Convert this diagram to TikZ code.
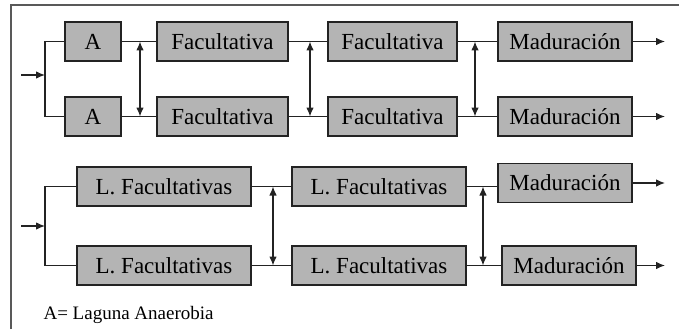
\documentclass[tikz,border=0pt]{standalone}
\usepackage{fontspec}
\setmainfont{Liberation Serif}
\usetikzlibrary{arrows.meta}
\definecolor{boxgray}{RGB}{180,180,180}
\definecolor{linegray}{RGB}{35,35,35}

\begin{document}
\begin{tikzpicture}[x=1pt, y=-1pt, line width=1.1pt, draw=linegray,
    box/.style={draw=linegray, line width=1.3pt, fill=boxgray, minimum height=39pt, inner sep=0pt, font=\fontsize{23}{25}\selectfont},
    tip/.style={-{Latex[length=9pt,width=7.5pt]}},
    dbl/.style={{Latex[length=9pt,width=7.5pt]}-{Latex[length=9pt,width=7.5pt]}}]

      \useasboundingbox (0,0) rectangle (679,329);
      \draw[gray!70!black] (11,329) -- (11,5) -- (679,5);

      % Define boxes, upper scheme
      \node[box, minimum width=56pt] (a1) at (93,41.5) {A};
      \node[box, minimum width=56pt] (a2) at (93,116.5) {A};
      \node[box, minimum width=131pt] (f1) at (222.5,41.5) {Facultativa};
      \node[box, minimum width=131pt] (f2) at (222.5,116.5) {Facultativa};
      \node[box, minimum width=129pt] (f3) at (392.5,41.5) {Facultativa};
      \node[box, minimum width=129pt] (f4) at (392.5,116.5) {Facultativa};
      \node[box, minimum width=134pt] (m1) at (565,41.5) {Maduración};
      \node[box, minimum width=134pt] (m2) at (565,116.5) {Maduración};

      % Define boxes, lower scheme
      \node[box, minimum width=174pt] (l1) at (164,186.5) {L. Facultativas};
      \node[box, minimum width=174pt] (l2) at (164,265.5) {L. Facultativas};
      \node[box, minimum width=174pt] (l3) at (379,186.5) {L. Facultativas};
      \node[box, minimum width=174pt] (l4) at (379,265.5) {L. Facultativas};
      \node[box, minimum width=134pt] (m3) at (565,183) {Maduración};
      \node[box, minimum width=134pt] (m4) at (569,265.5) {Maduración};

      \node[anchor=west, font=\fontsize{19}{21}\selectfont, inner sep=0pt] (key) at (43,315) {A= Laguna Anaerobia};

      % Define points
      \coordinate (in1) at (21,75);
      \coordinate (br1) at (45,75);
      \coordinate (in2) at (21,226);
      \coordinate (br2) at (45,226);
      \coordinate (v1t) at (140,41.5);
      \coordinate (v1b) at (140,116.5);
      \coordinate (v2t) at (310,41.5);
      \coordinate (v2b) at (310,116.5);
      \coordinate (v3t) at (475,41.5);
      \coordinate (v3b) at (475,116.5);
      \coordinate (v4t) at (273,186.5);
      \coordinate (v4b) at (273,265.5);
      \coordinate (v5t) at (483,186.5);
      \coordinate (v5b) at (483,265.5);
      \coordinate (o1) at (665,41.5);
      \coordinate (o2) at (665,116.5);
      \coordinate (o3) at (665,183);
      \coordinate (o4) at (665,265.5);

      % Define connections, upper scheme
      \draw[tip] (in1) -- (br1);
      \draw (a1.west) -| (br1) |- (a2.west);
      \draw (a1) -- (f1);
      \draw (a2) -- (f2);
      \draw (f1) -- (f3);
      \draw (f2) -- (f4);
      \draw (f3) -- (m1);
      \draw (f4) -- (m2);
      \draw[dbl] (v1t) -- (v1b);
      \draw[dbl] (v2t) -- (v2b);
      \draw[dbl] (v3t) -- (v3b);
      \draw[tip] (m1) -- (o1);
      \draw[tip] (m2) -- (o2);

      % Define connections, lower scheme
      \draw[tip] (in2) -- (br2);
      \draw (l1.west) -| (br2) |- (l2.west);
      \draw (l1) -- (l3);
      \draw (l2) -- (l4);
      \draw (l3.east) -- (v5t) -- (m3.west |- v5t);
      \draw (l4) -- (m4);
      \draw[dbl] (v4t) -- (v4b);
      \draw[dbl] (v5t) -- (v5b);
      \draw[tip] (m3) -- (o3);
      \draw[tip] (m4) -- (o4);

    \end{tikzpicture}
\end{document}
